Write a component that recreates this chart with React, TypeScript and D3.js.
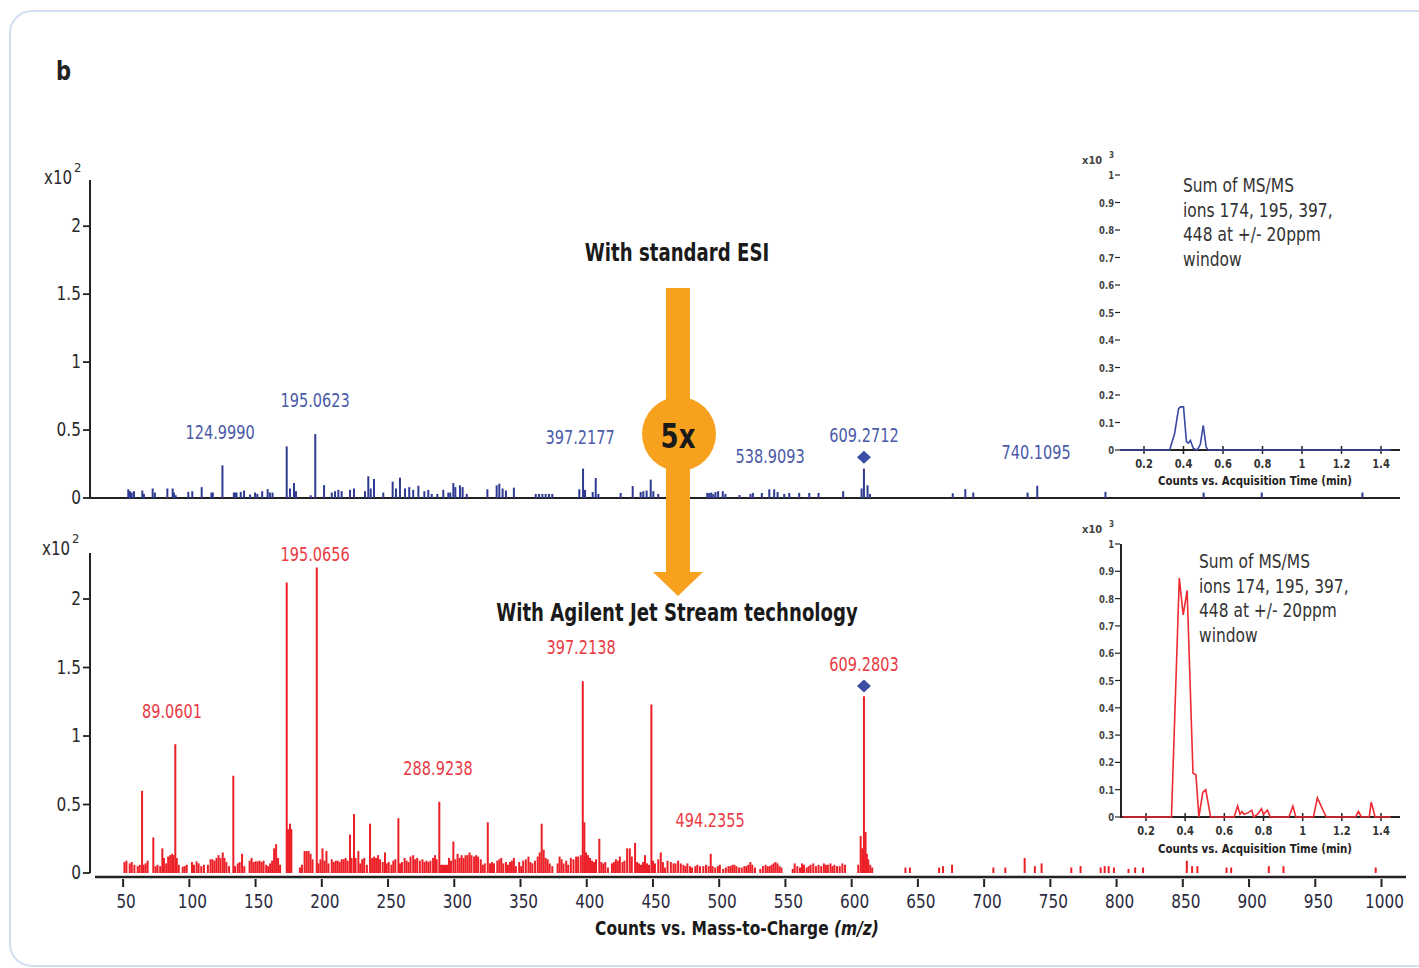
import React from "react";
import * as d3 from "d3";

const FONT = "'DejaVu Sans Condensed', 'DejaVu Sans', sans-serif";

// ---------- data ----------
const mzTicks = [50, 100, 150, 200, 250, 300, 350, 400, 450, 500, 550, 600, 650, 700, 750, 800, 850, 900, 950, 1000];
const yTicksMain = [0, 0.5, 1, 1.5, 2];
const insetTimeTicks = [0.2, 0.4, 0.6, 0.8, 1, 1.2, 1.4];
const insetYTicks = [0, 0.1, 0.2, 0.3, 0.4, 0.5, 0.6, 0.7, 0.8, 0.9, 1];

// Standard ESI spectrum: [m/z, counts x10^2]
const esiPeaks: [number, number][] = [
  [53.9, 0.064], [55.2, 0.05], [56.5, 0.04], [58.2, 0.05], [64.5, 0.055], [65.7, 0.03], [72.3, 0.07], [74, 0.04],
  [83.4, 0.07], [87.4, 0.07], [88.4, 0.04], [89.7, 0.02], [99.2, 0.045], [102.2, 0.05], [109.3, 0.08], [116.7, 0.04],
  [117.7, 0.04], [125.0, 0.24], [133.6, 0.04], [134.6, 0.04], [135.6, 0.04], [138.8, 0.045], [141.3, 0.055], [145.8, 0.025],
  [149.6, 0.04], [151.3, 0.03], [155, 0.05], [159.1, 0.065], [160.8, 0.04], [162.8, 0.04], [173.5, 0.38], [176, 0.07],
  [179, 0.11], [180.5, 0.05], [191.6, 0.02], [195.06, 0.47], [201.7, 0.095], [207.5, 0.04], [210, 0.05], [212.5, 0.06],
  [215, 0.05], [221.3, 0.06], [224.3, 0.07], [232.6, 0.05], [235.1, 0.16], [236.9, 0.07], [239.4, 0.14], [246.4, 0.04],
  [253.5, 0.12], [256, 0.07], [259, 0.15], [262.8, 0.07], [266, 0.08], [269, 0.06], [272.9, 0.09], [277.4, 0.05],
  [280.4, 0.06], [283, 0.03], [287.2, 0.03], [291.7, 0.06], [295.5, 0.04], [297, 0.04], [299.3, 0.11], [300.8, 0.08],
  [304.3, 0.093], [306.3, 0.08], [309.4, 0.03], [325, 0.064], [332, 0.093], [334, 0.105], [336.5, 0.07], [339, 0.055],
  [345, 0.076], [361.5, 0.03], [364, 0.03], [366.5, 0.03], [369, 0.03], [371.5, 0.03], [374, 0.03], [394.4, 0.064],
  [397.22, 0.216], [398.7, 0.06], [404.5, 0.044], [406.8, 0.147], [408.8, 0.03], [425.6, 0.037], [434.7, 0.088],
  [440.7, 0.044], [442.7, 0.05], [445.2, 0.055], [448.3, 0.135], [450.3, 0.05], [454, 0.03], [466, 0.04], [472, 0.03],
  [491, 0.037], [492.5, 0.037], [494, 0.04], [495.5, 0.03], [497.2, 0.044], [499.2, 0.05], [502.7, 0.05], [504.7, 0.03],
  [515.3, 0.022], [523.6, 0.03], [525.4, 0.037], [532.2, 0.037], [537.8, 0.064], [541.5, 0.064], [544.1, 0.044],
  [549.1, 0.03], [552.9, 0.037], [560.4, 0.037], [568, 0.037], [575, 0.037], [593.6, 0.05], [607.5, 0.07],
  [609.27, 0.216], [612, 0.093], [613.8, 0.03], [676.3, 0.035], [685.8, 0.065], [691.8, 0.04], [732.8, 0.04],
  [740.11, 0.09], [791.6, 0.045], [865.7, 0.04], [909.6, 0.04], [985.6, 0.04],
];

// Agilent Jet Stream spectrum: [m/z, counts x10^2]
const ajsPeaks: [number, number][] = [
  [51, 0.08], [52.5, 0.09], [55, 0.07], [56.5, 0.08], [58.5, 0.06], [61, 0.05], [62.5, 0.06], [64.3, 0.6], [65.5, 0.06],
  [67, 0.07], [68.5, 0.09], [72.8, 0.26], [74.5, 0.05], [76, 0.06], [78, 0.05], [79.6, 0.18], [80.8, 0.11], [82.5, 0.07],
  [84, 0.12], [85.5, 0.13], [87, 0.14], [88, 0.13], [89.4, 0.94], [90.5, 0.11], [92, 0.06], [95, 0.045], [96.5, 0.05],
  [98, 0.06], [102, 0.08], [103.5, 0.06], [105.5, 0.085], [107, 0.07], [109, 0.05], [111, 0.06], [114, 0.06], [116, 0.1],
  [117.5, 0.1], [119, 0.09], [120.5, 0.11], [122, 0.13], [123.5, 0.11], [125.2, 0.15], [126.5, 0.11], [128, 0.08],
  [130, 0.05], [133.2, 0.71], [134.5, 0.05], [136.5, 0.07], [138, 0.08], [139.8, 0.14], [141.5, 0.05], [145.5, 0.09],
  [147, 0.11], [148.5, 0.08], [150, 0.085], [151.5, 0.085], [153, 0.09], [154.5, 0.08], [156, 0.09], [158, 0.06],
  [159.5, 0.05], [161, 0.07], [162.5, 0.09], [164, 0.18], [165.5, 0.21], [167, 0.11], [168.5, 0.06], [173.5, 2.12],
  [174.5, 0.32], [176, 0.36], [177, 0.32], [183.5, 0.04], [185, 0.06], [187, 0.16], [188.5, 0.16], [190, 0.16],
  [191.5, 0.14], [193, 0.1], [196.2, 2.23], [197.5, 0.07], [199, 0.1], [200.5, 0.18], [202, 0.09], [203.5, 0.16],
  [205, 0.07], [207.5, 0.1], [209, 0.08], [210.5, 0.09], [212, 0.09], [213.5, 0.08], [215, 0.1], [216.5, 0.1],
  [218, 0.11], [219.5, 0.09], [221.3, 0.28], [222.5, 0.11], [224.3, 0.43], [225.5, 0.11], [227.6, 0.16], [229, 0.07],
  [230.5, 0.1], [232, 0.11], [234, 0.06], [236.4, 0.36], [238, 0.11], [239.5, 0.12], [241, 0.11], [242.5, 0.13],
  [244, 0.1], [246, 0.08], [247.7, 0.15], [249, 0.07], [250.5, 0.08], [252.5, 0.06], [254, 0.09], [255.5, 0.1],
  [257.8, 0.4], [259, 0.07], [260.5, 0.08], [262.5, 0.11], [264, 0.09], [265.5, 0.08], [267, 0.12], [269, 0.13],
  [270.5, 0.1], [272, 0.11], [274, 0.09], [276, 0.1], [277.5, 0.08], [279, 0.09], [280.5, 0.08], [282, 0.09],
  [284, 0.11], [285.5, 0.13], [286.7, 0.1], [288.7, 0.52], [290, 0.06], [291.5, 0.06], [293, 0.06], [294.5, 0.06],
  [296, 0.11], [297.5, 0.09], [299.3, 0.23], [300.8, 0.1], [302.5, 0.14], [304, 0.11], [305.5, 0.13], [307, 0.11],
  [308.5, 0.13], [310, 0.13], [311.5, 0.15], [313, 0.13], [315, 0.12], [316.5, 0.13], [318, 0.12], [320, 0.1],
  [321.5, 0.06], [323, 0.07], [325.3, 0.37], [327, 0.07], [328.5, 0.08], [330, 0.07], [332.5, 0.09], [334, 0.1],
  [335.5, 0.11], [337, 0.07], [339, 0.08], [340.5, 0.06], [342, 0.08], [343.5, 0.09], [345, 0.11], [346.5, 0.05],
  [349, 0.08], [350.5, 0.05], [352, 0.09], [354, 0.1], [356, 0.12], [357.5, 0.08], [359, 0.07], [361, 0.09],
  [363, 0.12], [364.5, 0.15], [366, 0.36], [367.5, 0.17], [369, 0.11], [370.5, 0.1], [372, 0.07], [374, 0.05],
  [378, 0.07], [379.5, 0.12], [381, 0.1], [382.5, 0.07], [384.5, 0.09], [386, 0.06], [388, 0.11], [390, 0.1],
  [392, 0.12], [393.5, 0.12], [395.5, 0.13], [397, 1.4], [398.2, 0.37], [399.5, 0.15], [401, 0.13], [402.5, 0.11],
  [404, 0.09], [405.5, 0.08], [407, 0.1], [409.5, 0.25], [411, 0.08], [412.5, 0.07], [414, 0.08], [416, 0.04],
  [419, 0.07], [420.5, 0.08], [422, 0.1], [423.5, 0.09], [425, 0.12], [427, 0.08], [428.5, 0.09], [430.5, 0.18],
  [432.5, 0.18], [434, 0.12], [436.5, 0.22], [438, 0.08], [439.5, 0.07], [441, 0.06], [442.5, 0.08], [444, 0.13],
  [445.5, 0.07], [447, 0.06], [448.8, 1.23], [450, 0.09], [451.5, 0.07], [454, 0.1], [455.9, 0.15], [457.5, 0.08],
  [459, 0.04], [461, 0.09], [463.5, 0.08], [465.5, 0.07], [467, 0.07], [469, 0.09], [471, 0.07], [473, 0.06],
  [474.5, 0.05], [476, 0.07], [478, 0.05], [479.5, 0.04], [482, 0.05], [483.5, 0.06], [485.5, 0.05], [488, 0.05],
  [490, 0.06], [492, 0.05], [493.6, 0.14], [495, 0.05], [497, 0.04], [499, 0.05], [500.5, 0.06], [503, 0.03],
  [505, 0.04], [507, 0.05], [508.5, 0.05], [510, 0.06], [511.5, 0.06], [513, 0.05], [515, 0.04], [517, 0.04],
  [519, 0.05], [520.5, 0.05], [522, 0.06], [523.5, 0.08], [525, 0.06], [527, 0.04], [531, 0.03], [533, 0.05],
  [535, 0.06], [536.5, 0.05], [538, 0.05], [539.5, 0.06], [541, 0.07], [542.5, 0.08], [544, 0.07], [545.5, 0.05],
  [547, 0.04], [555.5, 0.03], [557, 0.07], [559, 0.05], [561, 0.04], [562.5, 0.07], [564, 0.06], [566, 0.04],
  [567.5, 0.05], [569, 0.06], [571, 0.07], [573, 0.05], [575, 0.06], [577, 0.05], [579, 0.07], [580.5, 0.06],
  [582, 0.06], [584, 0.07], [585.5, 0.05], [587, 0.06], [589, 0.05], [591, 0.05], [593, 0.07], [595, 0.06],
  [605, 0.06], [606.8, 0.27], [608, 0.18], [609.28, 1.29], [610.5, 0.3], [611.5, 0.14], [612.5, 0.1], [614, 0.06],
  [615.5, 0.04], [640.6, 0.04], [644, 0.04], [666, 0.04], [669, 0.05], [675.8, 0.06], [707, 0.04], [716, 0.04],
  [730.6, 0.11], [738.3, 0.05], [743.4, 0.07], [765.8, 0.04], [772.8, 0.05], [788, 0.04], [791, 0.05], [794, 0.05],
  [798, 0.04], [809, 0.03], [814, 0.04], [820, 0.04], [853, 0.09], [857, 0.05], [861, 0.05], [883, 0.04],
  [886.5, 0.04], [914.9, 0.05], [926, 0.05], [995.6, 0.04],
];

// peak annotations: text, anchor m/z, baseline in data units
const esiLabels = [
  { text: "124.9990", mz: 123.2, y: 0.434 },
  { text: "195.0623", mz: 194.9, y: 0.669 },
  { text: "397.2177", mz: 395, y: 0.397 },
  { text: "538.9093", mz: 538.4, y: 0.257 },
  { text: "609.2712", mz: 609.3, y: 0.412 },
  { text: "740.1095", mz: 739.2, y: 0.287 },
];
const ajsLabels = [
  { text: "89.0601", mz: 86.9, y: 1.131 },
  { text: "195.0656", mz: 194.9, y: 2.277 },
  { text: "288.9238", mz: 287.7, y: 0.715 },
  { text: "397.2138", mz: 395.7, y: 1.599 },
  { text: "494.2355", mz: 493.1, y: 0.336 },
  { text: "609.2803", mz: 609.3, y: 1.474 },
];
const esiMarker = { mz: 609.27, y: 0.3 };
const ajsMarker = { mz: 609.28, y: 1.365 };

// EIC traces (time min, counts x10^3)
const esiTrace: [number, number][] = [
  [0.08, 0], [0.33, 0], [0.355, 0.06], [0.375, 0.15], [0.385, 0.157], [0.4, 0.157], [0.415, 0.03], [0.425, 0.025],
  [0.435, 0.035], [0.45, 0.005], [0.47, 0], [0.485, 0.02], [0.5, 0.09], [0.515, 0.01], [0.525, 0], [1.45, 0],
];
const ajsTrace: [number, number][] = [
  [0.08, 0], [0.33, 0], [0.37, 0.875], [0.39, 0.74], [0.41, 0.83], [0.44, 0.16], [0.455, 0.155], [0.47, 0],
  [0.49, 0.09], [0.505, 0.1], [0.53, 0], [0.65, 0], [0.668, 0.04], [0.68, 0.01], [0.69, 0.02], [0.7, 0.01],
  [0.72, 0.015], [0.74, 0.025], [0.75, 0], [0.77, 0.01], [0.79, 0.03], [0.8, 0.01], [0.82, 0.025], [0.835, 0],
  [0.93, 0], [0.95, 0.04], [0.965, 0], [1.055, 0], [1.075, 0.07], [1.12, 0], [1.27, 0], [1.285, 0.02], [1.3, 0],
  [1.34, 0], [1.35, 0.055], [1.37, 0], [1.45, 0],
];
const insetText = ["Sum of MS/MS", "ions 174, 195, 397,", "448 at +/- 20ppm", "window"];

// ---------- styles ----------
const BLUE = "#2f3b92";
const BLUE_TXT = "#4a5aa8";
const RED = "#ec1f27";
const RED_TXT = "#ea3a44";
const AXIS = "#222";
const TXT = "#2a2a2a";
const ORANGE = "#f7a11f";

const x = d3.scaleLinear().domain([25, 1020]).range([90, 1408]);
const yTop = d3.scaleLinear().domain([0, 2.34]).range([498, 180]);
const yBot = d3.scaleLinear().domain([0, 2.336]).range([873, 553]);

const tTop = d3.scaleLinear().domain([0.2, 1.4]).range([1144, 1381]);
const vTop = d3.scaleLinear().domain([0, 1]).range([450, 175]);
const tBot = d3.scaleLinear().domain([0.2, 1.4]).range([1146, 1381]);
const vBot = d3.scaleLinear().domain([0, 1]).range([817, 544]);

function fmt(v: number) {
  return v === 0 ? "0" : String(+v.toFixed(1));
}

// condensed text helper (horizontal squeeze to mimic a narrow typeface)
function T(props: any) {
  const { x: tx, y: ty, sx = 0.85, children, ...rest } = props;
  return (
    <text transform={`translate(${tx},${ty}) scale(${sx},1)`} {...rest}>
      {children}
    </text>
  );
}

function MainYAxis({ y, top }: { y: d3.ScaleLinear<number, number>; top: number }) {
  return (
    <g>
      <line x1={90} x2={90} y1={top} y2={y(0)} stroke={AXIS} strokeWidth={2} />
      {yTicksMain.map((t) => (
        <g key={t}>
          <line x1={83} x2={90} y1={y(t)} y2={y(t)} stroke={AXIS} strokeWidth={1.8} />
          <T x={81} y={y(t) + 6} sx={0.9} textAnchor="end" fontSize={19} fill={TXT}>
            {fmt(t)}
          </T>
        </g>
      ))}
    </g>
  );
}

function Bars({ data, y, color }: { data: [number, number][]; y: d3.ScaleLinear<number, number>; color: string }) {
  return (
    <g>
      {data.map(([m, v], i) => (
        <rect key={i} x={x(m) - 1} y={y(v)} width={2} height={y(0) - y(v)} fill={color} />
      ))}
    </g>
  );
}

function Inset({
  t, v, trace, color, showYLine, titleY, textX, textY,
}: {
  t: d3.ScaleLinear<number, number>; v: d3.ScaleLinear<number, number>; trace: [number, number][];
  color: string; showYLine: boolean; titleY: number; textX: number; textY: number;
}) {
  const line = d3.line<[number, number]>().x((d) => t(d[0])).y((d) => v(d[1]));
  const x0 = 1120;
  return (
    <g fontFamily={FONT}>
      {showYLine && <line x1={x0 + 1} x2={x0 + 1} y1={v(1)} y2={v(0)} stroke={AXIS} strokeWidth={2} />}
      <line x1={x0} x2={1400} y1={v(0)} y2={v(0)} stroke={AXIS} strokeWidth={2} />
      {insetYTicks.map((k) => (
        <g key={k}>
          <line x1={x0 - 5} x2={x0} y1={v(k)} y2={v(k)} stroke={AXIS} strokeWidth={1.2} />
          <T x={x0 - 6} y={v(k) + 4} sx={0.85} textAnchor="end" fontSize={11} fontWeight="bold" fill="#444">
            {fmt(k)}
          </T>
        </g>
      ))}
      {insetTimeTicks.map((k) => (
        <g key={k}>
          <line x1={t(k)} x2={t(k)} y1={v(0) - 4} y2={v(0) + 4} stroke={AXIS} strokeWidth={1.5} />
          <T x={t(k)} y={v(0) + 18} sx={0.85} textAnchor="middle" fontSize={13} fontWeight="bold" fill="#333">
            {fmt(k)}
          </T>
        </g>
      ))}
      <text x={x0 - 38} y={v(1) - 11} fontSize={11} fontWeight="bold" fill="#444">x10</text>
      <text x={x0 - 11} y={v(1) - 17} fontSize={8} fontWeight="bold" fill="#444">3</text>
      <text x={1255} y={titleY} textAnchor="middle" fontSize={13} fontWeight="bold" fill="#222"
        textLength={194} lengthAdjust="spacingAndGlyphs">
        Counts vs. Acquisition Time (min)
      </text>
      <path d={line(trace) || ""} fill="none" stroke={color} strokeWidth={1.6} />
      {insetText.map((s, i) => (
        <T key={i} x={textX} y={textY + i * 24.7} sx={0.86} fontSize={20} fill="#333">
          {s}
        </T>
      ))}
    </g>
  );
}

export default function App() {
  return (
    <svg width={1419} height={968} style={{ position: "absolute", left: 0, top: 0, background: "#fff" }}
      fontFamily={FONT}>
      <rect x={10} y={11} width={1440} height={955} rx={22} fill="#fff" stroke="#d3def2" strokeWidth={2} />
      <T x={56} y={80} sx={0.9} fontSize={26} fontWeight="bold" fill="#222">b</T>

      {/* top panel */}
      <T x={44} y={184} sx={0.88} fontSize={19} fill={TXT}>x10</T>
      <text x={74} y={172} fontSize={13} fill={TXT}>2</text>
      <MainYAxis y={yTop} top={180} />
      <line x1={90} x2={1400} y1={yTop(0)} y2={yTop(0)} stroke={AXIS} strokeWidth={2} />
      <Bars data={esiPeaks} y={yTop} color={BLUE} />
      {esiLabels.map((l) => (
        <T key={l.text} x={x(l.mz)} y={yTop(l.y)} textAnchor="middle" fontSize={19} fill={BLUE_TXT}>
          {l.text}
        </T>
      ))}
      <path d="M0,-6.5L7,0L0,6.5L-7,0Z" transform={`translate(${x(esiMarker.mz)},${yTop(esiMarker.y)})`} fill="#3b4ea3" />

      {/* bottom panel */}
      <T x={42} y={555} sx={0.88} fontSize={19} fill={TXT}>x10</T>
      <text x={72} y={543} fontSize={13} fill={TXT}>2</text>
      <MainYAxis y={yBot} top={553} />
      <Bars data={ajsPeaks} y={yBot} color={RED} />
      <line x1={95} x2={1406} y1={877} y2={877} stroke={AXIS} strokeWidth={2.5} />
      {mzTicks.map((m) => (
        <g key={m}>
          <line x1={x(m)} x2={x(m)} y1={879} y2={887} stroke={AXIS} strokeWidth={2} />
          <T x={x(m) + 3} y={908} textAnchor="middle" fontSize={20} fill="#2b2b40">
            {m}
          </T>
        </g>
      ))}
      <T x={737} y={935} sx={0.86} textAnchor="middle" fontSize={20} fontWeight="bold" fill="#1a1a1a">
        Counts vs. Mass-to-Charge <tspan fontStyle="italic">(m/z)</tspan>
      </T>
      {ajsLabels.map((l) => (
        <T key={l.text} x={x(l.mz)} y={yBot(l.y)} textAnchor="middle" fontSize={19} fill={RED_TXT}>
          {l.text}
        </T>
      ))}
      <path d="M0,-6.5L7,0L0,6.5L-7,0Z" transform={`translate(${x(ajsMarker.mz)},${yBot(ajsMarker.y)})`} fill="#3b4ea3" />

      {/* arrow */}
      <rect x={666} y={288} width={24} height={286} fill={ORANGE} />
      <circle cx={679} cy={434} r={37} fill={ORANGE} />
      <path d="M653,572L703,572L678,596Z" fill={ORANGE} />
      <T x={678} y={448} sx={0.85} textAnchor="middle" fontSize={34} fontWeight="bold" fill="#1a1a1a">5x</T>
      <T x={677} y={261} sx={0.84} textAnchor="middle" fontSize={24} fontWeight="bold" fill="#1a1a1a">With standard ESI</T>
      <T x={677} y={621} sx={0.84} textAnchor="middle" fontSize={24} fontWeight="bold" fill="#1a1a1a">
        With Agilent Jet Stream technology
      </T>

      {/* insets */}
      <Inset t={tTop} v={vTop} trace={esiTrace} color="#3a4aa0" showYLine={false} titleY={485} textX={1183} textY={192} />
      <Inset t={tBot} v={vBot} trace={ajsTrace} color="#ee2a33" showYLine={true} titleY={853} textX={1199} textY={568} />
    </svg>
  );
}
